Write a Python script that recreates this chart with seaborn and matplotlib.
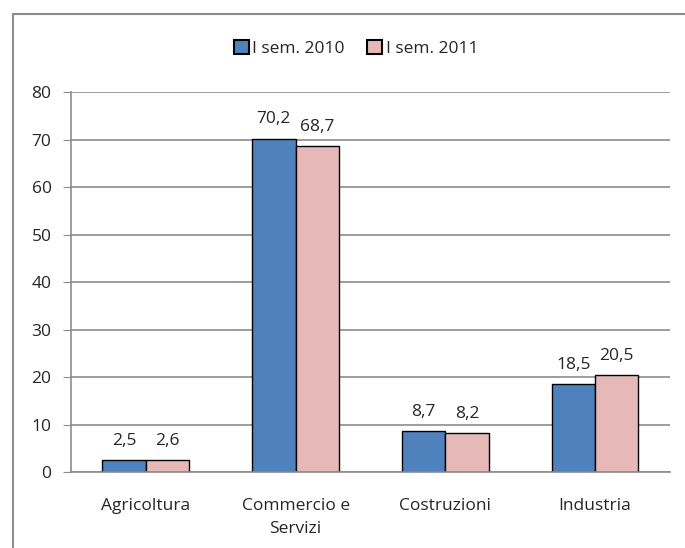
import pandas as pd
import matplotlib
matplotlib.use('Agg')
import matplotlib.pyplot as plt
import seaborn as sns
from matplotlib.lines import Line2D

# dati
settori = ['Agricoltura', 'Commercio e\nServizi', 'Costruzioni', 'Industria']
sem_2010 = [2.5, 70.2, 8.7, 18.5]
sem_2011 = [2.6, 68.7, 8.2, 20.5]
serie = ['I sem. 2010', 'I sem. 2011']
colori = ['#4F81BD', '#E6B9B8']

data = pd.DataFrame({
    'Settore': settori * 2,
    'Valore': sem_2010 + sem_2011,
    'Periodo': [serie[0]] * len(settori) + [serie[1]] * len(settori),
})

sns.set_style('white')
plt.rcParams['font.family'] = ['Open Sans', 'DejaVu Sans']
fs = 12.5

fig = plt.figure(figsize=(6.85, 5.48), dpi=100)
ax = fig.add_axes([0.1036, 0.1387, 0.8744, 0.6933])

sns.barplot(data=data, x='Settore', y='Valore', hue='Periodo',
            palette=colori, saturation=1, width=0.58, edgecolor='black',
            linewidth=1, ax=ax, legend=False)

# etichette con virgola decimale
for cont, vals in zip(ax.containers, [sem_2010, sem_2011]):
    ax.bar_label(cont, labels=[f'{v:.1f}'.replace('.', ',') for v in vals],
                 padding=8, fontsize=fs)

ax.set_ylim(0, 80)
ax.set_yticks(range(0, 81, 10))
ax.set_xlim(-0.5, 3.5)
ax.yaxis.grid(True, color='#8c8c8c', linewidth=1.2)
ax.set_axisbelow(True)
ax.set_xlabel('')
ax.set_ylabel('')
for s in ['top', 'right']:
    ax.spines[s].set_visible(False)
for s in ['left', 'bottom']:
    ax.spines[s].set_color('#8c8c8c')
    ax.spines[s].set_linewidth(1.2)
ax.tick_params(axis='y', left=True, length=6, color='#8c8c8c', labelsize=fs, pad=8)
ax.tick_params(axis='x', bottom=False, labelsize=fs, pad=15)
for t in ax.get_xticklabels():
    t.set_linespacing(1.6)

# legenda
handles = [plt.Rectangle((0, 0), 1, 1, facecolor=c, edgecolor='black', linewidth=1.5)
           for c in colori]
fig.legend(handles, serie, loc='center', bbox_to_anchor=(0.52, 0.912), ncol=2,
           frameon=False, fontsize=fs, handlelength=0.85, handleheight=0.85,
           handletextpad=0.2, columnspacing=1.3)

# cornice del grafico
fig.add_artist(Line2D([13 / 685, 1.0], [1 - 14 / 548, 1 - 14 / 548],
                      color='#8c8c8c', linewidth=1.5, transform=fig.transFigure))
fig.add_artist(Line2D([13 / 685, 13 / 685], [0.0, 1 - 14 / 548],
                      color='#8c8c8c', linewidth=1.5, transform=fig.transFigure))

fig.savefig('out.png', dpi=100)
